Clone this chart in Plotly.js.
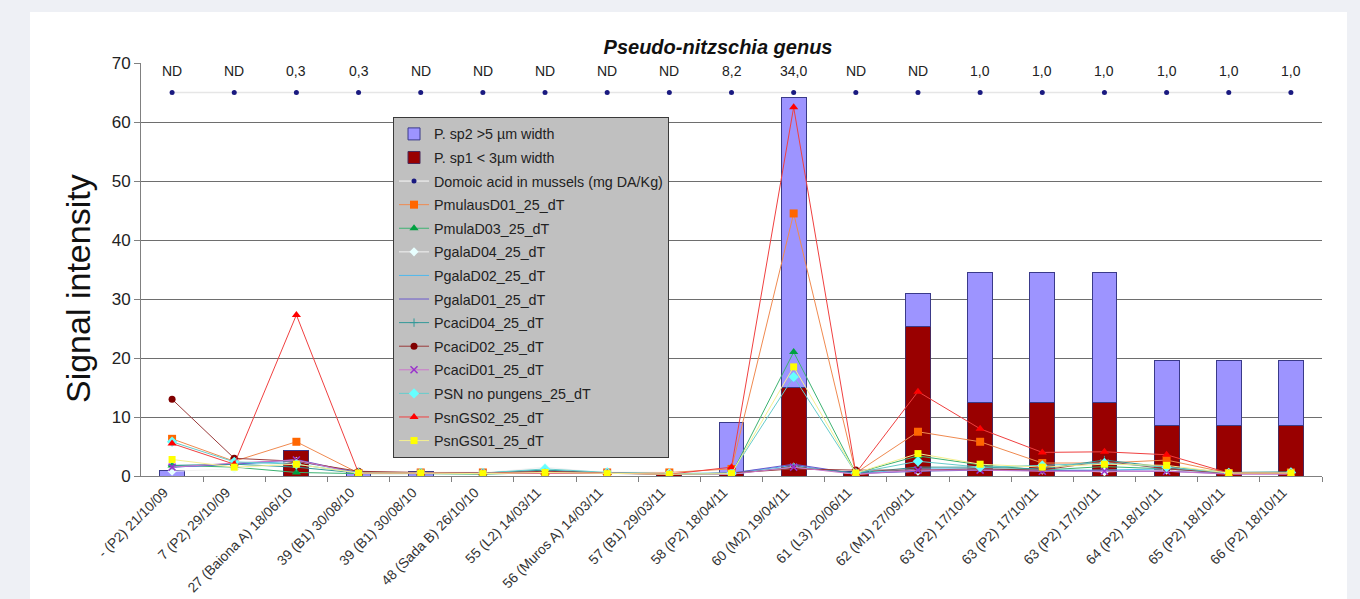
<!DOCTYPE html>
<html>
<head>
<meta charset="utf-8">
<script src="https://cdn.plot.ly/plotly-3.0.1.min.js"></script>
<style>html,body{margin:0;padding:0;background:#EEF0F5;}#chart{width:1360px;height:599px;}</style>
</head>
<body>
<div id="chart"></div>
<script>
const categories = ["- (P2) 21/10/09","7 (P2) 29/10/09","27 (Baiona A) 18/06/10","39 (B1) 30/08/10","39 (B1) 30/08/10","48 (Sada B) 26/10/10","55 (L2) 14/03/11","56 (Muros A) 14/03/11","57 (B1) 29/03/11","58 (P2) 18/04/11","60 (M2) 19/04/11","61 (L3) 20/06/11","62 (M1) 27/09/11","63 (P2) 17/10/11","63 (P2) 17/10/11","63 (P2) 17/10/11","64 (P2) 18/10/11","65 (P2) 18/10/11","66 (P2) 18/10/11"];

const sp1 = [0, 0, 4.3, 0, 0, 0, 0, 0, 0.3, 0.5, 15.0, 0.8, 25.3, 12.4, 12.4, 12.4, 8.5, 8.5, 8.5];
const sp2 = [1.0, 0, 0, 0.7, 0.7, 0, 0, 0, 0, 8.5, 49.2, 0, 5.7, 22.1, 22.1, 22.1, 11.0, 11.0, 11.0];

const daLevel = [65,65,65,65,65,65,65,65,65,65,65,65,65,65,65,65,65,65,65];
const daLabels = ["ND","ND","0,3","0,3","ND","ND","ND","ND","ND","8,2","34,0","ND","ND","1,0","1,0","1,0","1,0","1,0","1,0"];

const PmulausD01 = [6.3, 2.5, 5.8, 0.5, 0.6, 0.6, 0.6, 0.6, 0.6, 1.2, 44.5, 0.5, 7.5, 5.8, 2.2, 2.2, 2.7, 0.5, 0.6];
const PmulaD03   = [1.8, 1.5, 0.6, 0.4, 0.4, 0.3, 0.6, 0.5, 0.4, 0.3, 21.0, 0.5, 3.4, 1.9, 1.0, 1.6, 1.2, 0.6, 0.6];
const PgalaD04   = [0.8, 1.2, 2.5, 0.5, 0.5, 0.5, 1.5, 0.5, 0.5, 0.3, 1.5, 0.3, 0.8, 1.5, 1.0, 0.7, 1.0, 0.5, 0.5];
const PgalaD02   = [1.5, 2.0, 2.5, 0.6, 0.5, 0.5, 1.0, 0.5, 0.4, 0.5, 1.8, 0.4, 1.2, 1.2, 1.0, 1.0, 1.2, 0.5, 0.5];
const PgalaD01   = [1.5, 2.0, 2.8, 0.5, 0.5, 0.4, 0.6, 0.4, 0.3, 0.5, 2.0, 0.4, 0.8, 1.0, 0.9, 0.8, 0.8, 0.4, 0.4];
const PcaciD04   = [1.8, 2.0, 1.5, 0.5, 0.6, 0.5, 1.0, 0.5, 0.3, 0.4, 1.5, 0.5, 1.5, 1.5, 1.2, 2.7, 1.5, 0.6, 0.7];
const PcaciD02   = [13.0, 3.0, 2.5, 0.8, 0.6, 0.5, 0.8, 0.5, 0.3, 0.5, 1.2, 1.0, 1.0, 1.2, 1.0, 2.5, 1.2, 0.5, 0.5];
const PcaciD01   = [1.5, 2.2, 2.7, 0.4, 0.5, 0.4, 0.5, 0.4, 0.3, 0.3, 1.5, 0.3, 1.0, 1.0, 0.8, 0.8, 0.8, 0.3, 0.3];
const PSNnoPung  = [5.8, 2.4, 2.0, 0.5, 0.5, 0.5, 1.2, 0.6, 0.4, 0.5, 16.8, 0.5, 2.5, 1.5, 1.8, 2.2, 1.5, 0.5, 0.6];
const PsnGS02    = [5.5, 2.0, 27.3, 0.5, 0.5, 0.5, 0.6, 0.5, 0.3, 1.5, 62.5, 0.5, 14.3, 8.0, 4.0, 4.1, 3.6, 0.5, 0.5];
const PsnGS01    = [2.8, 1.5, 2.0, 0.5, 0.5, 0.4, 0.6, 0.4, 0.3, 0.4, 18.5, 0.5, 3.8, 2.0, 1.5, 2.0, 1.8, 0.5, 0.5];

const xs = categories.map((c, i) => i);
const FONT = "Arial, 'Liberation Sans', sans-serif";

function line(name, y, lineColor, marker, rank, mode) {
  return {
    type: 'scatter', mode: mode || 'lines+markers', name: name, x: xs, y: y,
    line: {color: lineColor, width: 1},
    marker: marker, legendrank: rank, legendgroup: name, hoverinfo: 'name+y'
  };
}

const traces = [
  {type:'bar', name:'P. sp1 < 3µm width', x: xs, y: sp1, width: 0.4,
   marker:{color:'#990000', line:{color:'#4a2a5a', width:1}}, legendrank: 2, legendgroup:'sp1'},
  {type:'bar', name:'P. sp2 >5 µm width', x: xs, y: sp2, width: 0.4,
   marker:{color:'#9D94FF', line:{color:'#3a3a8a', width:1}}, legendrank: 1, legendgroup:'sp2'},
  {type:'scatter', mode:'lines+markers', name:'Domoic acid in mussels (mg DA/Kg)', x: xs, y: daLevel,
   line:{color:'#E6E6E6', width:1.5}, marker:{color:'#1A1A80', size:5}, legendrank: 3, legendgroup:'da'},
  line('PmulausD01_25_dT', PmulausD01, '#F08A50', {symbol:'square', color:'#FF6600', size:8}, 4),
  line('PmulaD03_25_dT', PmulaD03, '#3CB371', {symbol:'triangle-up', color:'#00A040', size:8}, 5),
  line('PgalaD04_25_dT', PgalaD04, '#F2F2F2', {symbol:'diamond', color:'#E8FFFF', size:7}, 6),
  line('PgalaD02_25_dT', PgalaD02, '#4FB8EC', {size:1, color:'#4FB8EC'}, 7, 'lines'),
  line('PgalaD01_25_dT', PgalaD01, '#6A5ACD', {size:1, color:'#6A5ACD'}, 8, 'lines'),
  line('PcaciD04_25_dT', PcaciD04, '#339999', {symbol:'cross-thin-open', color:'#339999', size:6, line:{width:1, color:'#339999'}}, 9),
  line('PcaciD02_25_dT', PcaciD02, '#9A3A3A', {symbol:'circle', color:'#800000', size:7}, 10),
  line('PcaciD01_25_dT', PcaciD01, '#CC77CC', {symbol:'x-thin-open', color:'#9933CC', size:7, line:{width:1.5, color:'#9933CC'}}, 11),
  line('PSN no pungens_25_dT', PSNnoPung, '#66CCCC', {symbol:'diamond', color:'#66FFFF', size:8}, 12),
  line('PsnGS02_25_dT', PsnGS02, '#F04040', {symbol:'triangle-up', color:'#FF0000', size:8}, 13),
  line('PsnGS01_25_dT', PsnGS01, '#F5F090', {symbol:'square', color:'#FFFF00', size:7}, 14)
];

const annotations = xs.map((x, i) => ({
  x: x, y: daLevel[i], xref:'x', yref:'y', text: daLabels[i], showarrow:false,
  yshift: 22, font:{family: FONT, size: 14, color:'#222'}
}));
annotations.push({
  xref:'paper', yref:'paper', x: -0.0533, y: 0.4528, xanchor:'center', yanchor:'middle',
  text:'Signal intensity', textangle: -90, showarrow:false,
  font:{family: FONT, size: 34, color:'#111'}
});

const layout = {
  width: 1360, height: 599,
  margin: {l: 141, r: 38, t: 63, b: 123},
  paper_bgcolor: '#EEF0F5',
  plot_bgcolor: '#C0C0C0',
  barmode: 'stack',
  bargap: 0.6,
  showlegend: true,
  font: {family: FONT, color: '#222'},
  title: {text: '<b><i>Pseudo-nitzschia genus</i></b>', font:{family: FONT, size: 20, color:'#111'},
          xref:'paper', x: 0.4886, xanchor:'center', yref:'container', y: 0.9215, yanchor:'middle'},
  xaxis: {
    range: [-0.5, categories.length - 0.5],
    tickmode: 'array', tickvals: xs, ticktext: categories,
    tickangle: -45, ticks: '', showgrid: false, zeroline: false,
    showline: true, linecolor: '#808080', linewidth: 1,
    ticklabelstandoff: 2, ticklabelshift: -8,
    tickfont: {family: FONT, size: 13.8, color: '#333'},
    minor: {tickmode: 'array', tickvals: xs.map(v => v + 0.5), ticks: 'outside', ticklen: 5, tickcolor: '#808080', showgrid: false}
  },
  yaxis: {
    range: [0, 70], dtick: 10, tick0: 0,
    showgrid: true, gridcolor: '#6E6E6E', gridwidth: 1, zeroline: false,
    showline: true, linecolor: '#808080', linewidth: 1,
    ticks: 'outside', ticklen: 6, tickcolor: '#808080',
    tickfont: {family: FONT, size: 17, color: '#222'}
  },
  legend: {
    x: 0.2134, y: 0.869, xanchor: 'left', yanchor: 'top',
    bgcolor: '#C0C0C0', bordercolor: '#3A3A3A', borderwidth: 1,
    font: {family: FONT, size: 14.3, color: '#222'},
    traceorder: 'grouped', tracegroupgap: 2, itemclick: false
  },
  shapes: [
    {type:'rect', xref:'paper', yref:'paper', x0:-0.094, x1:1.0212, y0:-0.298, y1:1.1235,
     fillcolor:'#FFFFFF', line:{width:0}, layer:'below'}
  ],
  annotations: annotations
};

Plotly.newPlot('chart', traces, layout, {displayModeBar: false, staticPlot: true});
</script>
</body>
</html>
